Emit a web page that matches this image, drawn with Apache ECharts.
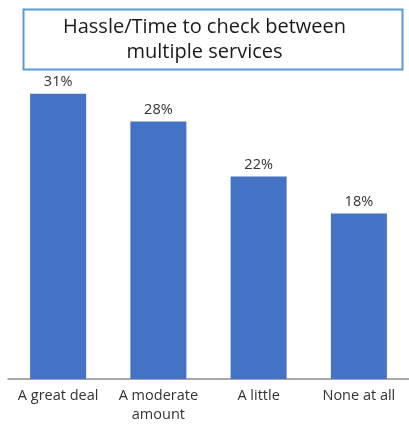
<!DOCTYPE html>
<html>
<head>
<meta charset="utf-8">
<script src="https://cdn.jsdelivr.net/npm/echarts@6/dist/echarts.min.js"></script>
<style>
  html, body { margin: 0; padding: 0; background: #ffffff; }
  #chart { width: 409px; height: 429px; }
</style>
</head>
<body>
<div id="chart"></div>
<script>
// Survey responses: how much hassle checking between multiple services is
const categories = ['A great deal', 'A moderate\namount', 'A little', 'None at all'];
const shares = [31, 28, 22, 18];
const titleText = 'Hassle/Time to check between\nmultiple services';

const chart = echarts.init(document.getElementById('chart'));
const fontFamily = '"Open Sans", "Noto Sans", sans-serif';

chart.setOption({
  animation: false,
  backgroundColor: '#ffffff',
  title: {
    text: titleText,
    left: 'center',
    top: 10,
    textStyle: {
      fontFamily: fontFamily,
      fontSize: 20,
      fontWeight: 'normal',
      color: '#1a1a1a',
      lineHeight: 25
    }
  },
  graphic: [{
    type: 'rect',
    left: 21,
    top: 7,
    shape: { width: 379, height: 60 },
    style: { fill: 'none', stroke: '#5B9BD5', lineWidth: 2 },
    z: 10
  }],
  grid: { left: 8, right: 0, top: 57, bottom: 50 },
  xAxis: {
    type: 'category',
    data: categories,
    axisLine: { lineStyle: { color: '#8c8c8c', width: 1.5 } },
    axisTick: { show: false },
    axisLabel: {
      fontFamily: fontFamily,
      fontSize: 14.5,
      color: '#333333',
      margin: 7,
      lineHeight: 19,
      interval: 0
    }
  },
  yAxis: {
    type: 'value',
    min: 0,
    max: 35,
    show: false,
    splitLine: { show: false }
  },
  series: [{
    type: 'bar',
    data: shares,
    barWidth: 56,
    itemStyle: { color: '#4472C4' },
    label: {
      show: true,
      position: 'top',
      distance: 4,
      formatter: '{c}%',
      fontFamily: fontFamily,
      fontSize: 14.5,
      color: '#333333'
    }
  }]
});
</script>
</body>
</html>
